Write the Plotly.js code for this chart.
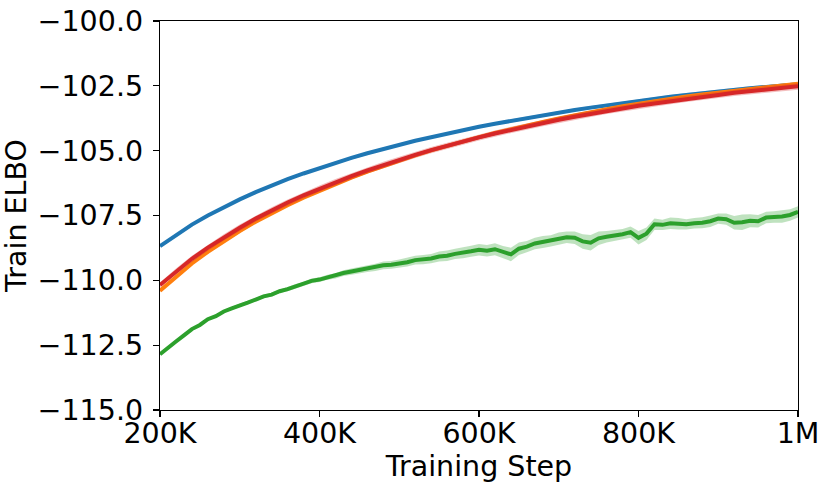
<!DOCTYPE html>
<html>
<head>
<meta charset="utf-8">
<script src="https://cdn.plot.ly/plotly-3.0.1.min.js"></script>
<style>
  html, body { margin: 0; padding: 0; background: #fff; }
  #plotlyDiv { width: 831px; height: 492px; }
</style>
</head>
<body>
<div id="plotlyDiv"></div>
<script>
// training steps, in thousands
const steps = [200, 220, 240, 260, 280, 300, 320, 340, 360, 380, 400, 420, 440, 460, 480, 500, 520, 540, 560, 580,
  600, 620, 640, 660, 680, 700, 720, 740, 760, 780, 800, 820, 840, 860, 880, 900, 920, 940, 960, 980, 1000]

const blueElbo = [-108.68, -108.25, -107.85, -107.50, -107.18, -106.88, -106.60, -106.34, -106.10, -105.88,
  -105.67, -105.47, -105.28, -105.10, -104.93, -104.77, -104.62, -104.48, -104.34, -104.21,
  -104.08, -103.96, -103.85, -103.74, -103.63, -103.53, -103.43, -103.34, -103.25, -103.16,
  -103.08, -103.00, -102.92, -102.85, -102.78, -102.72, -102.65, -102.59, -102.54, -102.49, -102.44]

const orangeElbo = [-110.40, -109.85, -109.35, -108.90, -108.49, -108.10, -107.74, -107.41, -107.10, -106.81,
  -106.54, -106.28, -106.04, -105.81, -105.59, -105.38, -105.18, -104.99, -104.81, -104.64,
  -104.48, -104.32, -104.17, -104.03, -103.89, -103.76, -103.63, -103.51, -103.40, -103.29,
  -103.19, -103.09, -103.00, -102.91, -102.83, -102.76, -102.68, -102.61, -102.54, -102.48, -102.42]

const redElbo = [-110.18, -109.65, -109.17, -108.74, -108.34, -107.97, -107.62, -107.30, -107.00, -106.72,
  -106.46, -106.21, -105.98, -105.76, -105.55, -105.35, -105.16, -104.98, -104.81, -104.65,
  -104.49, -104.34, -104.20, -104.07, -103.94, -103.81, -103.69, -103.58, -103.47, -103.37,
  -103.27, -103.18, -103.09, -103.00, -102.92, -102.85, -102.77, -102.70, -102.64, -102.58, -102.52]

const blueSpread = [0.04, 0.04, 0.04, 0.04, 0.04, 0.04, 0.04, 0.04, 0.04, 0.04,
  0.05, 0.05, 0.05, 0.05, 0.05, 0.05, 0.05, 0.05, 0.05, 0.05,
  0.06, 0.06, 0.06, 0.06, 0.06, 0.06, 0.06, 0.06, 0.06, 0.06,
  0.07, 0.07, 0.07, 0.07, 0.07, 0.07, 0.07, 0.07, 0.07, 0.07, 0.07]
const orangeSpread = [0.06, 0.06, 0.06, 0.06, 0.06, 0.06, 0.06, 0.06, 0.06, 0.06,
  0.06, 0.06, 0.06, 0.06, 0.06, 0.06, 0.06, 0.06, 0.06, 0.06,
  0.06, 0.06, 0.06, 0.06, 0.06, 0.06, 0.06, 0.06, 0.06, 0.06,
  0.06, 0.06, 0.06, 0.06, 0.06, 0.06, 0.06, 0.06, 0.06, 0.06, 0.06]
const redSpread = [0.10, 0.11, 0.12, 0.12, 0.12, 0.12, 0.12, 0.12, 0.12, 0.12,
  0.12, 0.12, 0.12, 0.12, 0.12, 0.12, 0.12, 0.12, 0.12, 0.12,
  0.12, 0.12, 0.12, 0.12, 0.12, 0.12, 0.12, 0.12, 0.12, 0.12,
  0.12, 0.12, 0.12, 0.12, 0.12, 0.12, 0.12, 0.12, 0.13, 0.13, 0.13]

// the green run is noisier, read at 10K spacing
const greenSteps = [200, 210, 220, 230, 240, 250, 260, 270, 280, 290, 300, 310, 320, 330, 340, 350, 360, 370, 380, 390,
  400, 410, 420, 430, 440, 450, 460, 470, 480, 490, 500, 510, 520, 530, 540, 550, 560, 570, 580, 590,
  600, 610, 620, 630, 640, 650, 660, 670, 680, 690, 700, 710, 720, 730, 740, 750, 760, 770, 780, 790,
  800, 810, 820, 830, 840, 850, 860, 870, 880, 890, 900, 910, 920, 930, 940, 950, 960, 970, 980, 990, 1000]
const greenElbo = [-112.85, -112.58, -112.36, -112.12, -111.88, -111.72, -111.50, -111.38, -111.20, -111.08,
  -110.95, -110.86, -110.74, -110.62, -110.55, -110.42, -110.34, -110.22, -110.14, -110.02,
  -109.97, -109.88, -109.83, -109.72, -109.66, -109.60, -109.55, -109.50, -109.42, -109.40,
  -109.36, -109.30, -109.22, -109.20, -109.16, -109.08, -109.05, -108.98, -108.94, -108.88,
  -108.82, -108.86, -108.80, -108.92, -109.00, -108.78, -108.70, -108.58, -108.52, -108.48,
  -108.40, -108.34, -108.36, -108.50, -108.55, -108.38, -108.32, -108.28, -108.22, -108.14,
  -108.36, -108.20, -107.84, -107.86, -107.80, -107.82, -107.84, -107.80, -107.78, -107.72,
  -107.62, -107.64, -107.78, -107.76, -107.70, -107.72, -107.58, -107.56, -107.54, -107.48, -107.36]
const greenSpread = [0.04, 0.04, 0.04, 0.05, 0.05, 0.05, 0.05, 0.05, 0.06, 0.06,
  0.06, 0.06, 0.06, 0.07, 0.07, 0.07, 0.08, 0.08, 0.08, 0.09, 0.09,
  0.10, 0.10, 0.11, 0.12, 0.12, 0.13, 0.14, 0.15, 0.15, 0.16,
  0.17, 0.17, 0.18, 0.18, 0.19, 0.20, 0.20, 0.21, 0.21, 0.22,
  0.22, 0.23, 0.24, 0.26, 0.24, 0.22, 0.22, 0.23, 0.22, 0.24,
  0.22, 0.24, 0.28, 0.30, 0.26, 0.22, 0.22, 0.20, 0.22, 0.26,
  0.24, 0.22, 0.20, 0.22, 0.22, 0.20, 0.20, 0.21, 0.22, 0.20,
  0.22, 0.26, 0.30, 0.25, 0.24, 0.22, 0.22, 0.24, 0.22, 0.22]

const yTicks = [-115, -112.5, -110, -107.5, -105, -102.5, -100]
const yTickText = ['\u2212115.0', '\u2212112.5', '\u2212110.0', '\u2212107.5', '\u2212105.0', '\u2212102.5', '\u2212100.0']
const xTicks = [200, 400, 600, 800, 1000]
const xTickText = ['200K', '400K', '600K', '800K', '1M']

function band(xs, ys, spread, fillcolor) {
  let upper = ys.map((y, i) => y + spread[i])
  let lower = ys.map((y, i) => y - spread[i])
  return {
    x: xs.concat(xs.slice().reverse()),
    y: upper.concat(lower.reverse()),
    fill: 'toself',
    fillcolor: fillcolor,
    line: { width: 0 },
    mode: 'lines',
    hoverinfo: 'skip',
    showlegend: false
  }
}

function line(xs, ys, color) {
  return { x: xs, y: ys, mode: 'lines', line: { color: color, width: 4 }, showlegend: false }
}

let data = [
  band(steps, blueElbo, blueSpread, 'rgba(31,119,180,0.3)'),
  line(steps, blueElbo, '#1f77b4'),
  band(steps, orangeElbo, orangeSpread, 'rgba(255,127,14,0.3)'),
  line(steps, orangeElbo, '#ff7f0e'),
  band(greenSteps, greenElbo, greenSpread, 'rgba(44,160,44,0.3)'),
  line(greenSteps, greenElbo, '#2ca02c'),
  band(steps, redElbo, redSpread, 'rgba(214,39,40,0.3)'),
  line(steps, redElbo, '#d62728')
]

const font = { family: 'DejaVu Sans', size: 28.5, color: '#000' }

let layout = {
  width: 831,
  height: 492,
  margin: { l: 160, r: 33, t: 21, b: 82 },
  paper_bgcolor: '#fff',
  plot_bgcolor: '#fff',
  font: font,
  showlegend: false,
  xaxis: {
    range: [200, 1000],
    tickvals: xTicks,
    ticktext: xTickText,
    ticks: 'outside',
    ticklen: 6,
    tickwidth: 1.2,
    tickcolor: '#000',
    showgrid: false,
    zeroline: false,
    showline: true,
    linecolor: '#000',
    linewidth: 1.2,
    mirror: true,
    tickfont: font,
    ticklabelstandoff: -8,
    title: { text: 'Training Step', font: font, standoff: 2 },
    automargin: false
  },
  yaxis: {
    range: [-115, -100],
    tickvals: yTicks,
    ticktext: yTickText,
    ticks: 'outside',
    ticklen: 6,
    tickwidth: 1.2,
    tickcolor: '#000',
    showgrid: false,
    zeroline: false,
    showline: true,
    linecolor: '#000',
    linewidth: 1.2,
    mirror: true,
    tickfont: font,
    ticklabelstandoff: 4,
    title: { text: 'Train ELBO', font: font, standoff: 4 },
    automargin: false
  }
}

Plotly.newPlot('plotlyDiv', data, layout, { staticPlot: true })
</script>
</body>
</html>
